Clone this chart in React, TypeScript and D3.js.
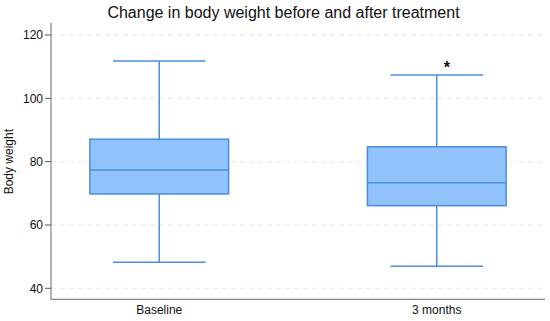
import React from 'react';
import * as d3 from 'd3';

// box statistics
const groups = ['Baseline', '3 months'];
const whiskerLow = [48.2, 47.0];
const q1 = [69.8, 66.1];
const medians = [77.4, 73.3];
const q3 = [87.1, 84.7];
const whiskerHigh = [111.8, 107.4];
const marks = ['', '*'];
const yTicks = [40, 60, 80, 100, 120];

const W = 550;
const H = 321;
const margin = { top: 23, right: 5, bottom: 22, left: 51 };
const axisBottom = 299.3;

export default function App() {
  const x = d3.scalePoint<string>()
    .domain(groups)
    .range([margin.left, W - margin.right])
    .padding(0.39);
  const y = d3.scaleLinear().domain([40, 120]).range([288.3, 35]);
  const step = x.step();
  const boxW = step * 0.5;
  const capW = step * 0.333;

  const fill = '#90c2fb';
  const stroke = '#4b8fdc';
  const font = 'Liberation Sans, Arial, Helvetica, sans-serif';

  return (
    <svg width={W} height={H} style={{ position: 'absolute', left: 0, top: 0 }} fontFamily={font}>
      <rect width={W} height={H} fill="#fff" />
      <text x={283.5} y={18} textAnchor="middle" fontSize={16} fill="#111">
        Change in body weight before and after treatment
      </text>

      {/* grid + y ticks */}
      {yTicks.map(t => (
        <g key={t}>
          <line x1={margin.left} x2={W - margin.right} y1={y(t)} y2={y(t)}
            stroke="#e8e8e8" strokeDasharray="5,4" strokeWidth={1} />
          <line x1={margin.left - 6} x2={margin.left} y1={y(t)} y2={y(t)} stroke="#555" />
          <text x={margin.left - 8} y={y(t)} dy="0.35em" textAnchor="end" fontSize={12} fill="#111">{t}</text>
        </g>
      ))}

      {/* axes */}
      <line x1={margin.left} x2={margin.left} y1={margin.top} y2={axisBottom} stroke="#666" />
      <line x1={margin.left} x2={W - margin.right} y1={axisBottom} y2={axisBottom} stroke="#666" />

      <text transform={`translate(13, ${y(80)}) rotate(-90)`} textAnchor="middle" fontSize={12} fill="#111">
        Body weight
      </text>

      {groups.map((g, i) => {
        const cx = x(g) as number;
        return (
          <g key={g}>
            <line x1={cx} x2={cx} y1={y(whiskerHigh[i])} y2={y(q3[i])} stroke={stroke} strokeWidth={1.5} />
            <line x1={cx} x2={cx} y1={y(q1[i])} y2={y(whiskerLow[i])} stroke={stroke} strokeWidth={1.5} />
            <line x1={cx - capW / 2} x2={cx + capW / 2} y1={y(whiskerHigh[i])} y2={y(whiskerHigh[i])} stroke={stroke} strokeWidth={1.5} />
            <line x1={cx - capW / 2} x2={cx + capW / 2} y1={y(whiskerLow[i])} y2={y(whiskerLow[i])} stroke={stroke} strokeWidth={1.5} />
            <rect x={cx - boxW / 2} y={y(q3[i])} width={boxW} height={y(q1[i]) - y(q3[i])}
              fill={fill} stroke={stroke} strokeWidth={1.5} />
            <line x1={cx - boxW / 2} x2={cx + boxW / 2} y1={y(medians[i])} y2={y(medians[i])} stroke={stroke} strokeWidth={1.5} />
            {marks[i] && (
              <text x={cx + 10} y={y(whiskerHigh[i]) - 2} textAnchor="middle" fontSize={16} fontWeight="bold" fill="#111">
                {marks[i]}
              </text>
            )}
            <text x={cx} y={314} textAnchor="middle" fontSize={12} fill="#111">{g}</text>
          </g>
        );
      })}
    </svg>
  );
}
